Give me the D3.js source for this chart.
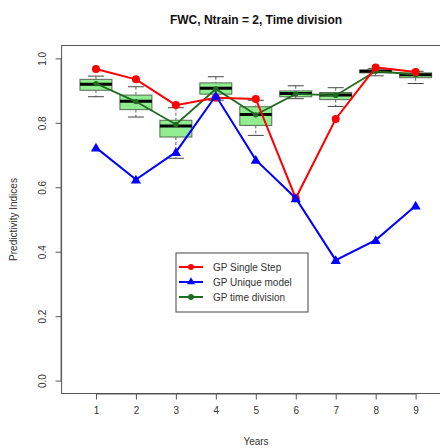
<!DOCTYPE html>
<html>
<head>
<meta charset="utf-8">
<script src="https://cdn.jsdelivr.net/npm/d3@7/dist/d3.min.js"></script>
<style>
  html, body { margin: 0; padding: 0; background: #fff; }
  svg { display: block; font-family: "Liberation Sans", Arial, Helvetica, sans-serif; }
</style>
</head>
<body>
<svg id="chart" width="440" height="448"></svg>
<script>
// Years on the x axis
const years = [1, 2, 3, 4, 5, 6, 7, 8, 9];

// Predictivity of the three approaches per year
const singleStep   = [0.967, 0.935, 0.855, 0.878, 0.874, 0.566, 0.812, 0.972, 0.958];
const uniqueModel  = [0.723, 0.624, 0.709, 0.884, 0.685, 0.566, 0.374, 0.436, 0.543];
const timeDivision = [0.922, 0.866, 0.795, 0.905, 0.825, 0.890, 0.885, 0.960, 0.950];

// Box statistics of the time-division runs
const boxLow    = [0.881, 0.818, 0.690, 0.870, 0.761, 0.875, 0.851, 0.946, 0.922];
const boxQ1     = [0.901, 0.841, 0.756, 0.889, 0.792, 0.881, 0.872, 0.955, 0.940];
const boxMedian = [0.920, 0.867, 0.790, 0.907, 0.826, 0.891, 0.886, 0.960, 0.949];
const boxQ3     = [0.935, 0.886, 0.808, 0.924, 0.850, 0.899, 0.894, 0.964, 0.955];
const boxHigh   = [0.945, 0.912, 0.847, 0.943, 0.870, 0.915, 0.909, 0.968, 0.960];

const yTicks = [0.0, 0.2, 0.4, 0.6, 0.8, 1.0];

const legendItems = [
  { label: "GP Single Step",   color: "#ff0000", shape: "circle" },
  { label: "GP Unique model",  color: "#0000ff", shape: "triangle" },
  { label: "GP time division", color: "#1f6b1f", shape: "circle" }
];

const svg = d3.select("#chart");

const plot = { left: 61.6, right: 450, top: 45.5, bottom: 393.5 };

const x = d3.scaleLinear().domain([0.14, 9.86]).range([plot.left, plot.right]);
const y = d3.scaleLinear().domain([-0.04, 1.04]).range([plot.bottom, plot.top]);

// Title
svg.append("text")
  .attr("x", 256).attr("y", 24)
  .attr("text-anchor", "middle")
  .attr("font-weight", "bold")
  .attr("font-size", 12)
  .attr("fill", "#111")
  .text("FWC, Ntrain = 2, Time division");

// Plot frame
svg.append("rect")
  .attr("x", plot.left).attr("y", plot.top)
  .attr("width", plot.right - plot.left).attr("height", plot.bottom - plot.top)
  .attr("fill", "none").attr("stroke", "#555").attr("stroke-width", 1);

// Axes
const xAxis = d3.axisBottom(x).tickValues(years).tickSize(6).tickPadding(7).tickFormat(d3.format("d"));
const gx = svg.append("g").attr("transform", `translate(0,${plot.bottom})`).call(xAxis);
gx.select(".domain").attr("d", `M${x(1)},0.5H${x(9)}`).attr("stroke", "#555");
gx.selectAll(".tick line").attr("stroke", "#555");
gx.selectAll(".tick text").attr("font-size", 10).attr("fill", "#333").attr("font-family", null);

const yAxis = d3.axisLeft(y).tickValues(yTicks).tickSize(6).tickFormat(d3.format(".1f"));
const gy = svg.append("g").attr("transform", `translate(${plot.left},0)`).call(yAxis);
gy.select(".domain").attr("d", `M-0.5,${y(0)}V${y(1)}`).attr("stroke", "#555");
gy.selectAll(".tick line").attr("stroke", "#555");
gy.selectAll(".tick text")
  .attr("font-size", 10).attr("fill", "#333").attr("font-family", null)
  .attr("text-anchor", "middle").attr("x", 0).attr("dy", null)
  .attr("transform", "translate(-16,0) rotate(-90)")
  .attr("y", 0);

// Axis titles
svg.append("text")
  .attr("x", 256).attr("y", 445)
  .attr("text-anchor", "middle").attr("font-size", 10).attr("fill", "#333")
  .text("Years");
svg.append("text")
  .attr("transform", `translate(17,${(plot.top + plot.bottom) / 2}) rotate(-90)`)
  .attr("text-anchor", "middle").attr("font-size", 10).attr("fill", "#333")
  .text("Predictivity Indices");

// Box plots
const boxHalf = 0.4, capHalf = 0.2;
const boxes = svg.append("g");
years.forEach((yr, i) => {
  const g = boxes.append("g");
  // whiskers
  g.append("line")
    .attr("x1", x(yr)).attr("x2", x(yr))
    .attr("y1", y(boxHigh[i])).attr("y2", y(boxQ3[i]))
    .attr("stroke", "#666").attr("stroke-dasharray", "3,2");
  g.append("line")
    .attr("x1", x(yr)).attr("x2", x(yr))
    .attr("y1", y(boxQ1[i])).attr("y2", y(boxLow[i]))
    .attr("stroke", "#666").attr("stroke-dasharray", "3,2");
  // caps
  [boxHigh[i], boxLow[i]].forEach(v => {
    g.append("line")
      .attr("x1", x(yr - capHalf)).attr("x2", x(yr + capHalf))
      .attr("y1", y(v)).attr("y2", y(v))
      .attr("stroke", "#444");
  });
  // box
  g.append("rect")
    .attr("x", x(yr - boxHalf)).attr("width", x(yr + boxHalf) - x(yr - boxHalf))
    .attr("y", y(boxQ3[i])).attr("height", y(boxQ1[i]) - y(boxQ3[i]))
    .attr("fill", "#90ee90").attr("stroke", "#556b55").attr("stroke-width", 1);
  // median
  g.append("line")
    .attr("x1", x(yr - boxHalf)).attr("x2", x(yr + boxHalf))
    .attr("y1", y(boxMedian[i])).attr("y2", y(boxMedian[i]))
    .attr("stroke", "#000").attr("stroke-width", 3);
});

// Series
const line = d3.line().x((d, i) => x(years[i])).y(d => y(d));

function drawSeries(values, color, shape, width, size) {
  const g = svg.append("g");
  g.append("path")
    .attr("d", line(values))
    .attr("fill", "none").attr("stroke", color).attr("stroke-width", width);
  const sym = d3.symbol().type(shape === "triangle" ? d3.symbolTriangle : d3.symbolCircle).size(size);
  g.selectAll("path.pt").data(values).join("path")
    .attr("class", "pt")
    .attr("transform", (d, i) => `translate(${x(years[i])},${y(d) + (shape === "triangle" ? 1 : 0)})`)
    .attr("d", sym)
    .attr("fill", color);
}

drawSeries(timeDivision, "#1f6b1f", "circle", 1.8, 22);
drawSeries(singleStep, "#ff0000", "circle", 2, 50);
drawSeries(uniqueModel, "#0000ff", "triangle", 2, 45);

// Legend
const lg = svg.append("g").attr("transform", "translate(176,253)");
lg.append("rect")
  .attr("x", 0).attr("y", 0).attr("width", 132).attr("height", 59)
  .attr("fill", "#fff").attr("stroke", "#444");
legendItems.forEach((item, i) => {
  const yy = 14 + i * 15;
  lg.append("line")
    .attr("x1", 3).attr("x2", 27).attr("y1", yy).attr("y2", yy)
    .attr("stroke", item.color).attr("stroke-width", 2);
  const sym = d3.symbol().type(item.shape === "triangle" ? d3.symbolTriangle : d3.symbolCircle)
    .size(item.shape === "triangle" ? 28 : 26);
  lg.append("path")
    .attr("transform", `translate(15,${yy})`)
    .attr("d", sym).attr("fill", item.color);
  lg.append("text")
    .attr("x", 37).attr("y", yy + 3.5)
    .attr("font-size", 10).attr("fill", "#333")
    .text(item.label);
});
</script>
</body>
</html>
